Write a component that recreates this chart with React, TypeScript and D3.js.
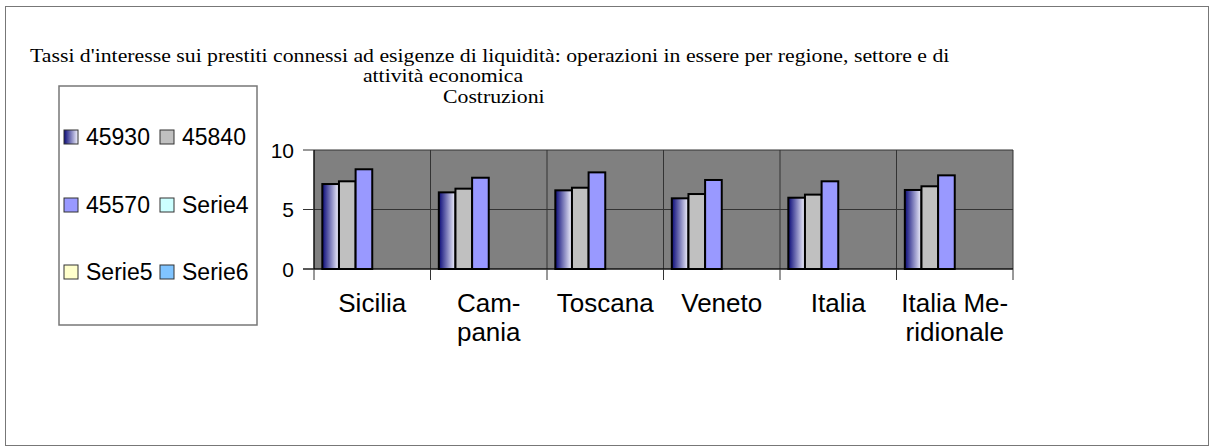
import React from 'react';
import * as d3 from 'd3';

const categories = ['Sicilia', 'Campania', 'Toscana', 'Veneto', 'Italia', 'Italia Meridionale'];
const categoryLabelLines = [['Sicilia'], ['Cam-', 'pania'], ['Toscana'], ['Veneto'], ['Italia'], ['Italia Me-', 'ridionale']];
const seriesNames = ['45930', '45840', '45570', 'Serie4', 'Serie5', 'Serie6'];
const series45930 = [7.14, 6.44, 6.61, 5.94, 5.99, 6.64];
const series45840 = [7.37, 6.75, 6.83, 6.30, 6.25, 6.95];
const series45570 = [8.38, 7.67, 8.12, 7.48, 7.37, 7.87];
const yTicks = [0, 5, 10];
const titleLines = [
  "Tassi  d'interesse sui prestiti connessi ad esigenze di liquidità: operazioni in essere per regione, settore e di",
  'attività economica',
  'Costruzioni',
];

const seriesFills = ['url(#gradNavy)', '#c0c0c0', '#9999ff', '#ccffff', '#ffffcc', '#80c4ff'];
const seriesValues = [series45930, series45840, series45570];

export default function App() {
  const W = 1211, H = 448;
  const plot = { left: 314, right: 1013, top: 150, bottom: 269 };
  const x = d3.scaleBand<string>().domain(categories).range([plot.left, plot.right]).padding(0);
  const xs = d3.scaleBand<string>().domain(seriesNames).range([0, x.bandwidth()]).paddingInner(0).paddingOuter(0.5);
  const y = d3.scaleLinear().domain([0, 10]).range([plot.bottom, plot.top]);
  const boundaries = categories.map((c) => x(c)!).concat([plot.right]);

  const sans = "'Liberation Sans', Arial, sans-serif";
  const serif = "'Liberation Serif', 'Times New Roman', serif";
  const stretch = 1.21;

  const legendCols = [64, 160];
  const legendRows = [137, 205, 272];

  return (
    <svg width={W} height={H} style={{ position: 'absolute', left: 0, top: 0, background: '#fff' }}>
      <defs>
        <linearGradient id="gradNavy" x1="0" x2="1" y1="0" y2="0">
          <stop offset="0" stopColor="#0a0a78" />
          <stop offset="1" stopColor="#f4f4ff" />
        </linearGradient>
      </defs>
      <rect x={5.5} y={6.5} width={1203} height={439} fill="#fff" stroke="#777" strokeWidth={1} />

      {/* title */}
      <text transform={`translate(30,62) scale(${stretch},1)`} fontFamily={serif} fontSize={18} fill="#000">{titleLines[0]}</text>
      <text transform={`translate(443,82) scale(${stretch},1)`} fontFamily={serif} fontSize={18} fill="#000" textAnchor="middle">{titleLines[1]}</text>
      <text transform={`translate(443,103) scale(${stretch},1)`} fontFamily={serif} fontSize={18} fill="#000">{titleLines[2]}</text>

      {/* legend */}
      <rect x={59} y={86} width={198} height={239} fill="#fff" stroke="#777" strokeWidth={1.5} />
      {seriesNames.map((s, i) => {
        const cx = legendCols[i % 2];
        const cy = legendRows[Math.floor(i / 2)];
        return (
          <g key={s}>
            <rect x={cx} y={cy - 7} width={14} height={14} fill={seriesFills[i]} stroke="#333" strokeWidth={1} />
            <text x={cx + 22} y={cy + 8} fontFamily={sans} fontSize={23} fill="#000">{s}</text>
          </g>
        );
      })}

      {/* plot background */}
      <rect x={plot.left} y={plot.top} width={plot.right - plot.left} height={plot.bottom - plot.top} fill="#808080" />
      {/* grid */}
      {yTicks.map((t) => (
        <line key={'gy' + t} x1={plot.left} x2={plot.right} y1={y(t)} y2={y(t)} stroke="#333" strokeWidth={1} />
      ))}
      {boundaries.map((b, i) => (
        <line key={'gx' + i} x1={b} x2={b} y1={plot.top} y2={plot.bottom} stroke="#333" strokeWidth={1} />
      ))}

      {/* bars */}
      {seriesValues.map((vals, si) => (
        <g key={'s' + si}>
          {vals.map((v, ci) => {
            const bx = x(categories[ci])! + xs(seriesNames[si])!;
            return (
              <rect key={ci} x={bx} y={y(v)} width={xs.bandwidth()} height={y(0) - y(v)}
                fill={seriesFills[si]} stroke="#000" strokeWidth={2} />
            );
          })}
        </g>
      ))}

      {/* axes */}
      <line x1={plot.left} x2={plot.left} y1={plot.top} y2={plot.bottom} stroke="#000" strokeWidth={1} />
      <line x1={plot.left - 11} x2={plot.right} y1={plot.bottom} y2={plot.bottom} stroke="#000" strokeWidth={1} />
      {yTicks.map((t) => (
        <g key={'yt' + t}>
          <line x1={plot.left - 11} x2={plot.left} y1={y(t)} y2={y(t)} stroke="#333" strokeWidth={1} />
          <text x={294} y={y(t) + 7.5} fontFamily={sans} fontSize={21} textAnchor="end" fill="#000">{t}</text>
        </g>
      ))}
      {boundaries.map((b, i) => (
        <line key={'xt' + i} x1={b} x2={b} y1={plot.bottom} y2={plot.bottom + 11} stroke="#333" strokeWidth={1} />
      ))}
      {categories.map((c, ci) => (
        <text key={c} fontFamily={sans} fontSize={26} textAnchor="middle" fill="#000">
          {categoryLabelLines[ci].map((ln, li) => (
            <tspan key={li} x={x(c)! + x.bandwidth() / 2} y={312 + li * 29}>{ln}</tspan>
          ))}
        </text>
      ))}
    </svg>
  );
}
